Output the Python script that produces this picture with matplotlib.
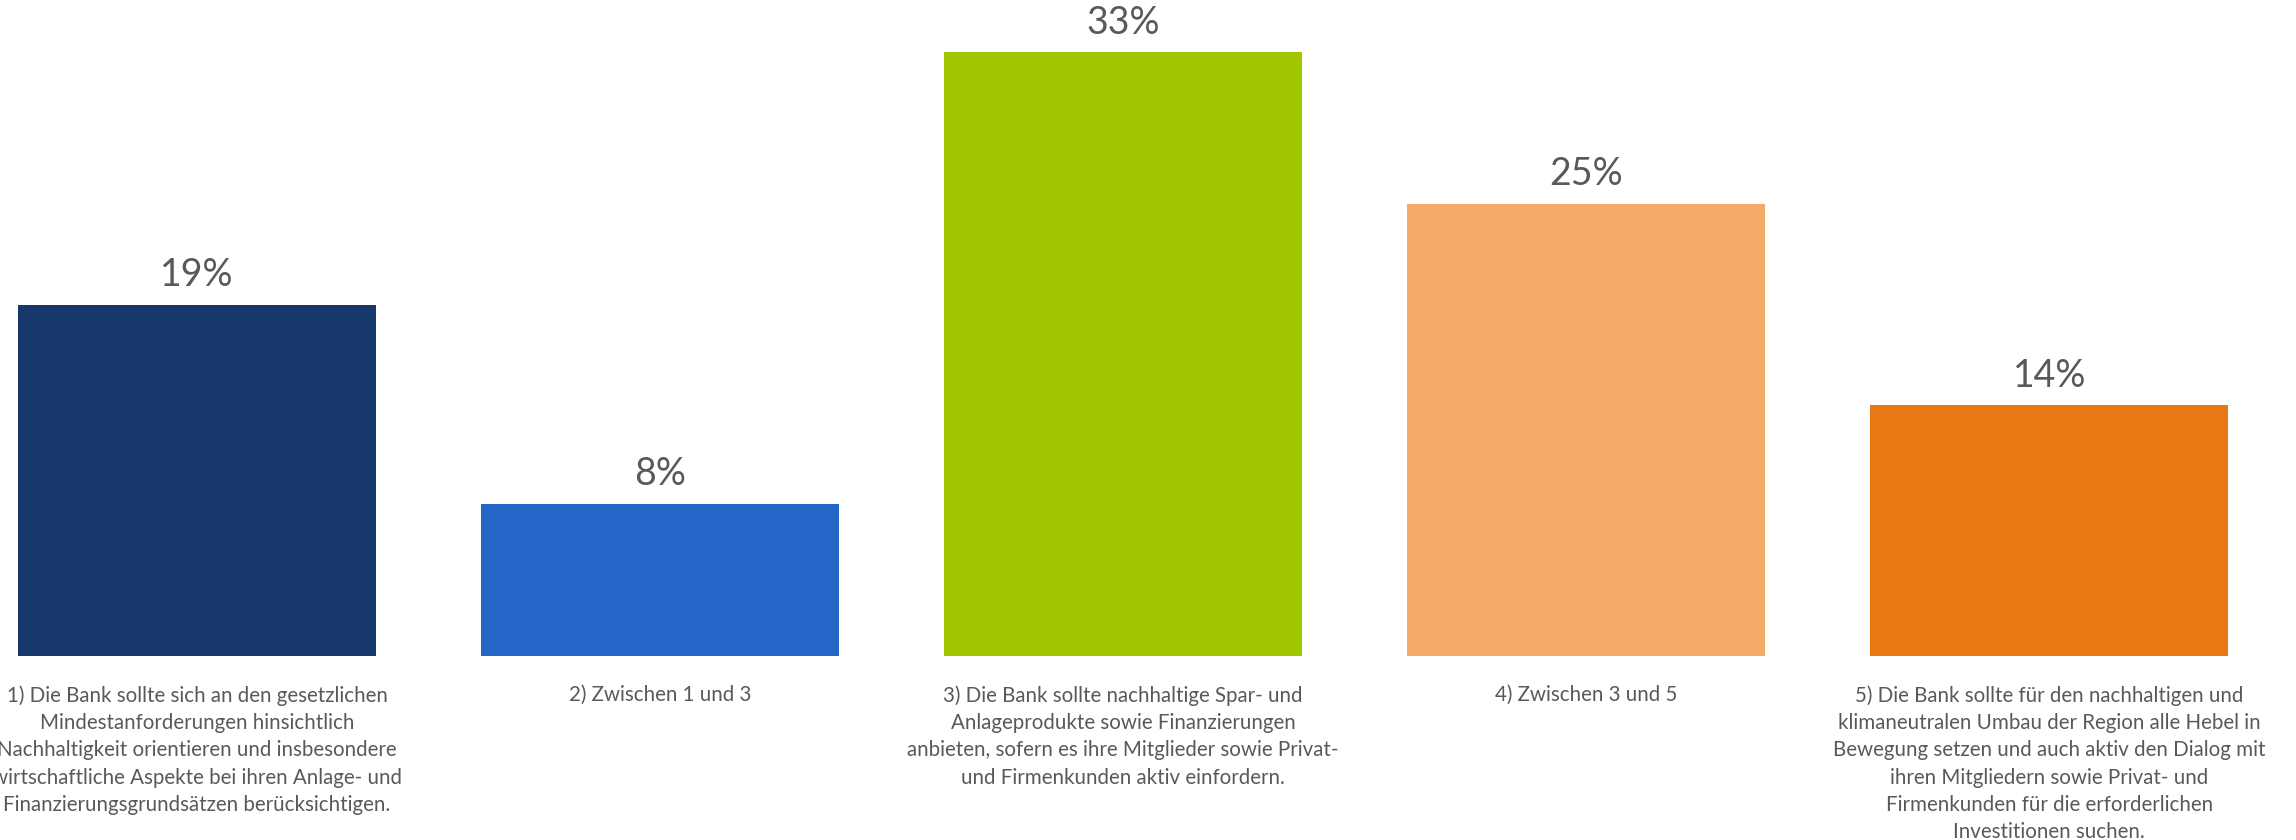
import matplotlib.pyplot as plt

# Daten
labels = [
    "1) Die Bank sollte sich an den gesetzlichen\nMindestanforderungen hinsichtlich\nNachhaltigkeit orientieren und insbesondere\nwirtschaftliche Aspekte bei ihren Anlage- und\nFinanzierungsgrundsätzen berücksichtigen.",
    "2) Zwischen 1 und 3",
    "3) Die Bank sollte nachhaltige Spar- und\nAnlageprodukte sowie Finanzierungen\nanbieten, sofern es ihre Mitglieder sowie Privat-\nund Firmenkunden aktiv einfordern.",
    "4) Zwischen 3 und 5",
    "5) Die Bank sollte für den nachhaltigen und\nklimaneutralen Umbau der Region alle Hebel in\nBewegung setzen und auch aktiv den Dialog mit\nihren Mitgliedern sowie Privat- und\nFirmenkunden für die erforderlichen\nInvestitionen suchen.",
]
values = [19.2, 8.3, 33.0, 24.7, 13.7]
colors = ['#16386A', '#2366C7', '#A0C600', '#F4AA69', '#E77812']

plt.rcParams['font.family'] = ['Lato', 'DejaVu Sans']
text_color = '#595959'

fig = plt.figure(figsize=(22.96, 8.4), dpi=100)
ax = fig.add_axes([0, 0.219, 1, 0.76])

x = list(range(len(values)))
ax.bar(x, values, width=0.773, color=colors)

for xi, v in zip(x, values):
    ax.text(xi, v + 0.65, f'{v:.0f}%', ha='center', va='bottom',
            fontsize=27, color=text_color)

for xi, lab in zip(x, labels):
    ax.text(xi, -1.6, lab, ha='center', va='top', fontsize=14.8,
            color=text_color, linespacing=1.45, clip_on=False)

ax.set_xlim(-0.4255, 4.533)
ax.set_ylim(0, 34.9)
ax.axis('off')

fig.savefig('out.png', dpi=100)
